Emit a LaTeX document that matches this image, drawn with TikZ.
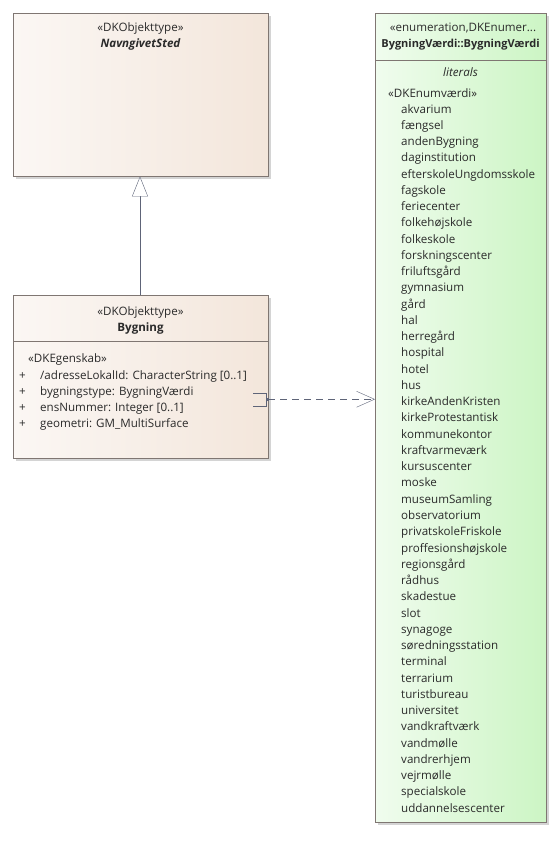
\documentclass[tikz,border=0pt]{standalone}
\usepackage{fontspec}
\setmainfont{Open Sans}
\usepackage{tikz}
\usetikzlibrary{arrows.meta}
\usetikzlibrary{positioning}

\definecolor{stedleft}{HTML}{FBF7F4}
\definecolor{stedright}{HTML}{F3E6DB}
\definecolor{enumleft}{HTML}{F0FCEE}
\definecolor{enumright}{HTML}{CCF5C4}
\definecolor{umlline}{HTML}{7F7672}
\definecolor{linkline}{HTML}{5E6478}
\definecolor{umltext}{HTML}{2A2A2A}
\definecolor{umlshadow}{HTML}{D4D4D4}

\begin{document}
\begin{tikzpicture}[x=1pt, y=-1pt, font=\fontsize{11.6}{13}\selectfont, text=umltext,
  umlbox/.style={draw=umlline, anchor=north west, inner sep=0pt},
  shadowbox/.style={fill=umlshadow, draw=none, anchor=north west, inner sep=0pt},
  title/.style={inner sep=0pt, anchor=base},
  attr/.style={inner sep=0pt, anchor=base west},
  literal/.style={inner sep=0pt, anchor=base west},
  litbelow/.style={below=16.26pt of #1.base west, anchor=base west},
  gen/.style={draw=linkline, -{Triangle[open, fill=white, length=20pt, width=16pt]}},
  dep/.style={draw=linkline, dashed, dash pattern=on 7pt off 5pt, -{Straight Barb[length=18pt, width=16pt]}}]

\useasboundingbox (0,0) rectangle (559,859);

% Define boxes
\node (stedshadow) [shadowbox, minimum width=255pt, minimum height=163pt] at (16,16) {};
\node (sted) [umlbox, left color=stedleft, right color=stedright, minimum width=255pt, minimum height=163pt] at (13,13) {};
\node (bygshadow) [shadowbox, minimum width=255pt, minimum height=163pt] at (16,298) {};
\node (bygning) [umlbox, left color=stedleft, right color=stedright, minimum width=255pt, minimum height=163pt] at (13,295) {};
\node (enumshadow) [shadowbox, minimum width=171pt, minimum height=809pt] at (378,16) {};
\node (enum) [umlbox, left color=enumleft, right color=enumright, minimum width=171pt, minimum height=809pt] at (375,13) {};

% Compartment lines
\draw[umlline] (13,341) -- (268,341);
\draw[umlline] (375,60) -- (546,60);

% Titles
\node (stedstereo) [title] at (140.5,32) {«DKObjekttype»};
\node (stedname) [title] at (140.5,48) {\bfseries\itshape NavngivetSted};
\node (bygstereo) [title] at (140.5,315) {«DKObjekttype»};
\node (bygname) [title] at (140.5,331) {\bfseries Bygning};
\node (enumstereo) [title] at (463,32) {«enumeration,DKEnumer...};
\node (enumname) [title, font=\fontsize{11}{13}\selectfont] at (460.5,48) {\bfseries BygningVærdi::BygningVærdi};
\node (literals) [title] at (460.5,76) {\itshape literals};

% Attributes
\node (egenskab) [attr] at (28,362) {«DKEgenskab»};
\node (attr1) [attr] at (40,379) {/adresseLokalId: CharacterString [0..1]};
\node (attr2) [attr, litbelow=attr1] {bygningstype: BygningVærdi};
\node (attr3) [attr, litbelow=attr2] {ensNummer: Integer [0..1]};
\node (attr4) [attr, litbelow=attr3] {geometri: GM\_MultiSurface};
\foreach \i in {1,...,4}
  \node (plus\i) [attr] at (attr\i.base west) [xshift=-21pt] {+};

% Literals
\node (enumvaerdi) [literal] at (388,97) {«DKEnumværdi»};
\node (lit1) [literal] at (401,113) {akvarium};
\node (lit2) [literal, litbelow=lit1] {fængsel};
\node (lit3) [literal, litbelow=lit2] {andenBygning};
\node (lit4) [literal, litbelow=lit3] {daginstitution};
\node (lit5) [literal, litbelow=lit4] {efterskoleUngdomsskole};
\node (lit6) [literal, litbelow=lit5] {fagskole};
\node (lit7) [literal, litbelow=lit6] {feriecenter};
\node (lit8) [literal, litbelow=lit7] {folkehøjskole};
\node (lit9) [literal, litbelow=lit8] {folkeskole};
\node (lit10) [literal, litbelow=lit9] {forskningscenter};
\node (lit11) [literal, litbelow=lit10] {friluftsgård};
\node (lit12) [literal, litbelow=lit11] {gymnasium};
\node (lit13) [literal, litbelow=lit12] {gård};
\node (lit14) [literal, litbelow=lit13] {hal};
\node (lit15) [literal, litbelow=lit14] {herregård};
\node (lit16) [literal, litbelow=lit15] {hospital};
\node (lit17) [literal, litbelow=lit16] {hotel};
\node (lit18) [literal, litbelow=lit17] {hus};
\node (lit19) [literal, litbelow=lit18] {kirkeAndenKristen};
\node (lit20) [literal, litbelow=lit19] {kirkeProtestantisk};
\node (lit21) [literal, litbelow=lit20] {kommunekontor};
\node (lit22) [literal, litbelow=lit21] {kraftvarmeværk};
\node (lit23) [literal, litbelow=lit22] {kursuscenter};
\node (lit24) [literal, litbelow=lit23] {moske};
\node (lit25) [literal, litbelow=lit24] {museumSamling};
\node (lit26) [literal, litbelow=lit25] {observatorium};
\node (lit27) [literal, litbelow=lit26] {privatskoleFriskole};
\node (lit28) [literal, litbelow=lit27] {proffesionshøjskole};
\node (lit29) [literal, litbelow=lit28] {regionsgård};
\node (lit30) [literal, litbelow=lit29] {rådhus};
\node (lit31) [literal, litbelow=lit30] {skadestue};
\node (lit32) [literal, litbelow=lit31] {slot};
\node (lit33) [literal, litbelow=lit32] {synagoge};
\node (lit34) [literal, litbelow=lit33] {søredningsstation};
\node (lit35) [literal, litbelow=lit34] {terminal};
\node (lit36) [literal, litbelow=lit35] {terrarium};
\node (lit37) [literal, litbelow=lit36] {turistbureau};
\node (lit38) [literal, litbelow=lit37] {universitet};
\node (lit39) [literal, litbelow=lit38] {vandkraftværk};
\node (lit40) [literal, litbelow=lit39] {vandmølle};
\node (lit41) [literal, litbelow=lit40] {vandrerhjem};
\node (lit42) [literal, litbelow=lit41] {vejrmølle};
\node (lit43) [literal, litbelow=lit42] {specialskole};
\node (lit44) [literal, litbelow=lit43] {uddannelsescenter};

% Generalization
\draw[gen] (bygning.north -| 140,0) -- (sted.south -| 140,0);

% Dependency from attribute
\coordinate (depstart) at ([yshift=-4pt]attr2.base -| bygning.east);
\draw[linkline] ([xshift=-15pt, yshift=-6.5pt]depstart) -| ([xshift=-2pt, yshift=6.5pt]depstart) -- ([xshift=-15pt, yshift=6.5pt]depstart);
\fill[linkline] ([xshift=-2pt, yshift=-1.5pt]depstart) rectangle ([xshift=1pt, yshift=1.5pt]depstart);
\draw[dep] (depstart) -- (depstart -| enum.west);

\end{tikzpicture}
\end{document}
